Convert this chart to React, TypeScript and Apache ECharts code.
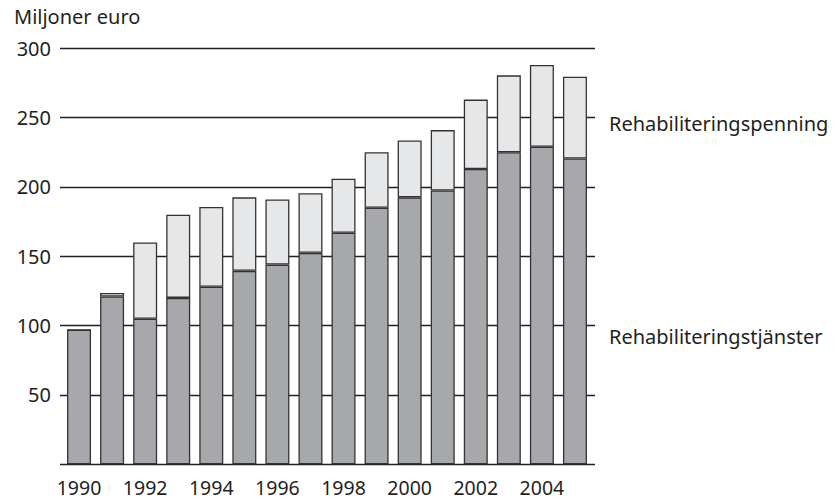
import React, { useEffect, useRef } from "react";
import * as echarts from "echarts";

const years = ["1990","1991","1992","1993","1994","1995","1996","1997","1998","1999","2000","2001","2002","2003","2004","2005"];
const tjanster = [97, 121, 105, 120, 128, 139.5, 144, 152.5, 167, 185, 192.5, 197.5, 213, 225, 229, 220.5];
const penning = [0, 2.5, 55, 60, 57.5, 53, 47, 43, 39, 40, 41, 43.5, 50, 55.5, 59, 59];
const yTicks = [0, 50, 100, 150, 200, 250, 300];
const unitLabel = "Miljoner euro";
const seriesNames = ["Rehabiliteringstjänster", "Rehabiliteringspenning"];

const FONT = "'Noto Sans', sans-serif";
const INK = "#231f20";

export default function App() {
  const ref = useRef<HTMLDivElement>(null);
  useEffect(() => {
    if (!ref.current) return;
    const chart = echarts.init(ref.current, null, { renderer: "svg" });
    const top = 48.3;
    const bottom = 501 - 464.3;
    chart.setOption({
      animation: false,
      backgroundColor: "#ffffff",
      textStyle: { fontFamily: FONT },
      grid: [
        { left: 62.5, right: 835 - 591.5, top, bottom },
        { left: 60, right: 835 - 595, top, bottom },
      ],
      xAxis: [
        {
          type: "category",
          gridIndex: 0,
          data: years,
          axisLine: { show: false },
          axisTick: { show: false },
          axisLabel: { interval: 1, fontSize: 19.5, lineHeight: 19, color: INK, fontFamily: FONT, margin: 14 },
        },
        { type: "value", gridIndex: 1, min: 0, max: 1, show: false },
      ],
      yAxis: [
        { type: "value", gridIndex: 0, min: yTicks[0], max: yTicks[yTicks.length - 1], interval: 50, show: false },
        {
          type: "value",
          gridIndex: 1,
          min: yTicks[0],
          max: yTicks[yTicks.length - 1],
          interval: 50,
          axisLine: { show: false },
          axisTick: { show: false },
          splitLine: { show: true, lineStyle: { color: INK, width: 1.4 } },
          axisLabel: {
            fontSize: 20,
            color: INK,
            fontFamily: FONT,
            margin: 9,
            formatter: (v: number) => (v === 0 ? "" : String(v)),
          },
        },
      ],
      series: [
        {
          name: seriesNames[0],
          type: "bar",
          stack: "total",
          xAxisIndex: 0,
          yAxisIndex: 0,
          barWidth: 24,
          data: tjanster,
          itemStyle: { color: "#a7a8ab", borderColor: "#333333", borderWidth: 1.3 },
        },
        {
          name: seriesNames[1],
          type: "bar",
          stack: "total",
          xAxisIndex: 0,
          yAxisIndex: 0,
          barWidth: 24,
          data: penning,
          itemStyle: { color: "#e6e7e8", borderColor: "#333333", borderWidth: 1.3 },
        },
      ],
      graphic: [
        {
          type: "text",
          left: 14,
          top: 6,
          style: { text: unitLabel, fontSize: 20, fill: INK, fontFamily: FONT },
        },
        {
          type: "text",
          x: 609,
          y: 123,
          style: { text: seriesNames[1], fontSize: 20, fill: INK, fontFamily: FONT, verticalAlign: "middle" },
        },
        {
          type: "text",
          x: 609,
          y: 336,
          style: { text: seriesNames[0], fontSize: 20, fill: INK, fontFamily: FONT, verticalAlign: "middle" },
        },
      ],
    });
    return () => chart.dispose();
  }, []);
  return (
    <div
      ref={ref}
      style={{ position: "fixed", left: 0, top: 0, width: 835, height: 501 }}
    />
  );
}
